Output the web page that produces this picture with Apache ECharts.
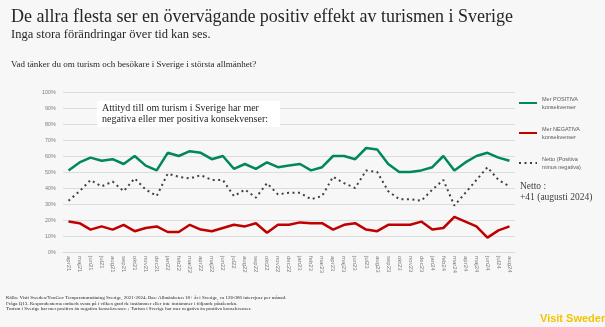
<!DOCTYPE html>
<html>
<head>
<meta charset="utf-8">
<script src="https://cdn.jsdelivr.net/npm/echarts@6/dist/echarts.min.js"></script>
<style>
html,body{margin:0;padding:0;background:#f7f7f7;}
#c{width:605px;height:327px;}
</style>
</head>
<body>
<div id="c"></div>
<script>
const categories = ['apr21','maj21','jun21','jul21','aug21','sep21','okt21','nov21','dec21',
 'jan22','feb22','mar22','apr22','maj22','jun22','jul22','aug22','sep22','okt22','nov22','dec22',
 'jan23','feb23','mar23','apr23','maj23','jun23','jul23','aug23','sep23','okt23','nov23','dec23',
 'jan24','feb24','mar24','apr24','maj24','jun24','jul24','aug24'];
const positiva = [51,56,59,57,58,55,60,54,51,62,60,63,62,58,60,52,55,52,56,53,54,55,51,53,60,60,58,65,64,55,50,50,51,53,60,51,56,60,62,59,57];
const negativa = [19,18,14,16,14,17,13,15,16,12.5,12.5,17,14,13,15,17,16,18,12,17,17,18.5,18,18,14,17,18,14,13,17,17,17,19,14,15,22,19,16,9,13.5,16];
const netto = [32,38,45,41,44,38,46,39,35,49,47,46,48,45,45,35,39,34,43,36,37,37,33,35,47,43,40,51,50,38,33,33,32,39,45,29,37,45,53,45,41];
const yTicks = {min:0, max:100, interval:10};
const names = ['Mer POSITIVA\nkonsekvenser','Mer NEGATIVA\nkonsekvenser','Netto (Positiva\nminus negativa)'];

const chart = echarts.init(document.getElementById('c'), null, {renderer:'canvas'});
const serif = '"Liberation Serif","Times New Roman",serif';
const sans = '"Liberation Sans",Arial,sans-serif';
chart.setOption({
  backgroundColor:'#f7f7f7',
  animation:false,
  title:[
    {text:'De allra flesta ser en övervägande positiv effekt av turismen i Sverige', left:6, top:3,
     textStyle:{fontFamily:serif, fontSize:18, fontWeight:'normal', color:'#262626'}},
    {text:'Inga stora förändringar över tid kan ses.', left:6, top:23,
     textStyle:{fontFamily:serif, fontSize:12.5, fontWeight:'normal', color:'#262626'}},
    {text:'Vad tänker du om turism och besökare i Sverige i största allmänhet?', left:6, top:55,
     textStyle:{fontFamily:serif, fontSize:9, fontWeight:'normal', color:'#262626'}}
  ],
  grid:{left:63, right:90, top:92, bottom:75},
  legend: names.map((n,i)=>({
    orient:'vertical', left:518, top:95+30*i, itemWidth:18, itemHeight:8, itemGap:0,
    data:[n], padding:0,
    itemStyle:{opacity:0, borderWidth:0},
    textStyle:{fontFamily:sans, fontSize:5.5, color:'#595959', lineHeight:8}
  })),
  xAxis:{type:'category', data:categories, boundaryGap:true,
    axisLine:{lineStyle:{color:'#d9d9d9'}}, axisTick:{show:false},
    axisLabel:{rotate:-90, fontSize:6, color:'#7f7f7f', fontFamily:sans, margin:4, interval:0}},
  yAxis:{type:'value', min:yTicks.min, max:yTicks.max, interval:yTicks.interval,
    axisLabel:{formatter:'{value}%', fontSize:5.5, color:'#7f7f7f', fontFamily:sans, margin:7},
    splitLine:{lineStyle:{color:'#dcdcdc', width:1}}, axisLine:{show:false}, axisTick:{show:false}},
  series:[
    {name:names[0], type:'line', data:positiva, symbol:'none', color:'#00875a',
     lineStyle:{width:2.5, color:'#00875a'}},
    {name:names[1], type:'line', data:negativa, symbol:'none', color:'#c00000',
     lineStyle:{width:2.5, color:'#c00000'}},
    {name:names[2], type:'line', data:netto, symbol:'none', color:'#404040',
     lineStyle:{width:2, color:'#404040', type:[2,3.5]}}
  ],
  graphic:[
    {type:'rect', z:100, shape:{x:97, y:101, width:183, height:26}, style:{fill:'#ffffff'}},
    {type:'text', z:101, left:102, top:103, style:{text:'Attityd till om turism i Sverige har mer\nnegativa eller mer positiva konsekvenser:',
      font:'10px '+serif, fill:'#262626', lineHeight:11}},
    {type:'text', z:101, left:520, top:181, style:{text:'Netto :\n+41 (augusti 2024)', font:'9.5px '+serif, fill:'#404040', lineHeight:11}},
    {type:'text', z:101, left:6, top:295, style:{text:'Källa: Visit Sweden/YouGov Temperaturmätning Sverige, 2021-2024. Bas: Allmänheten 18+ år i Sverige, ca 126-380 intervjuer per månad.\nFråga Q13. Respondenterna ombeds svara på i vilken grad de instämmer eller inte instämmer i följande påståenden.\nTurism i Sverige har mer positiva än negativa konsekvenser. ; Turism i Sverige har mer negativa än positiva konsekvenser.',
      font:'5px '+serif, fill:'#262626', lineHeight:5.5}},
    {type:'text', z:101, left:540, top:313, style:{text:'Visit Sweden', font:'bold 11px '+sans, fill:'#f5c400'}}
  ]
});
</script>
</body>
</html>
